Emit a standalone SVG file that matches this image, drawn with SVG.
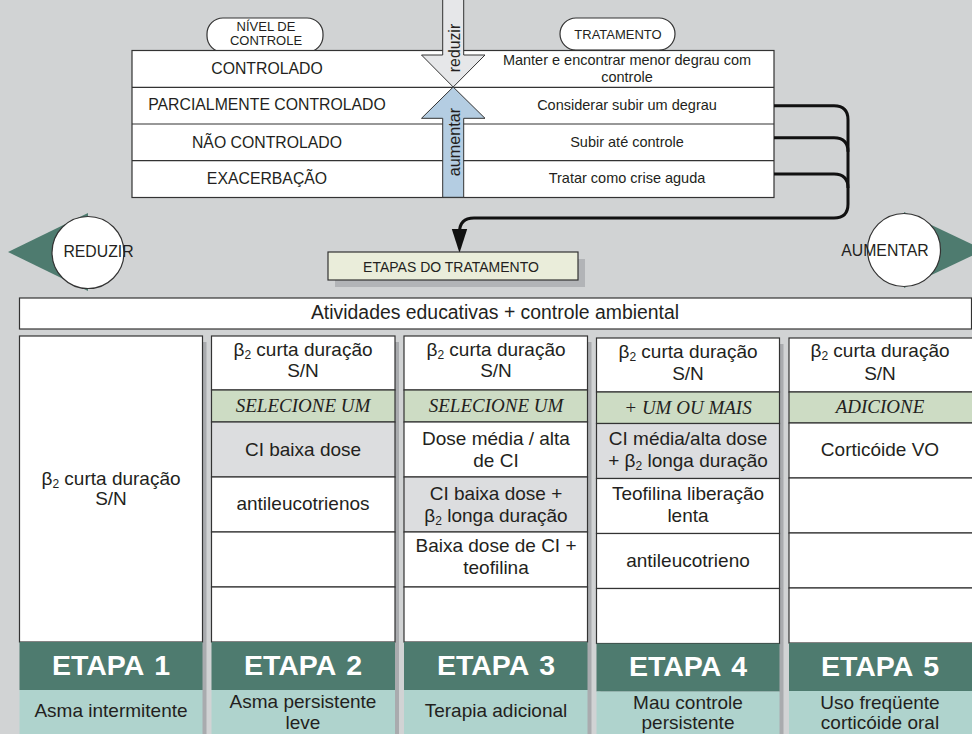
<svg xmlns="http://www.w3.org/2000/svg" width="972" height="734" viewBox="0 0 972 734">
<defs>
<style>
.t{font-family:"Liberation Sans",Arial,sans-serif;fill:#231f20;text-anchor:middle}
.s15{font-size:15.8px}
.s14{font-size:14.5px}
.s13{font-size:13px}
.b{font-size:19px}
.it{font-family:"Liberation Serif","Times New Roman",serif;font-style:italic;font-size:19px;fill:#231f20;text-anchor:middle}
.et{font-family:"Liberation Sans",Arial,sans-serif;font-weight:bold;font-size:28.5px;fill:#fff;text-anchor:middle;word-spacing:3px}
.w{fill:#fff;stroke:#333;stroke-width:1.2}
.gray{fill:#dcdddf;stroke:#333;stroke-width:1.2}
.green{fill:#cddcc4;stroke:#333;stroke-width:1.2}
.dark{fill:#4e7b6f}
.teal{fill:#afd3cd}
.sh{fill:#a9abae}
.conn{fill:none;stroke:#111;stroke-width:3}
.sub{font-size:12px}
</style>
</defs>
<rect x="0" y="0" width="972" height="734" fill="#d1d3d4"/>

<!-- Top table -->
<g id="nivel-pill">
<rect x="207" y="18" width="116" height="34" rx="16" class="w"/>
<text class="t s13" x="266" y="30.5">NÍVEL DE</text>
<text class="t s13" x="266" y="45">CONTROLE</text>
</g>
<g id="tratamento-pill">
<rect x="560" y="18" width="115" height="32" rx="16" class="w"/>
<text class="t s13" x="618" y="38.5">TRATAMENTO</text>
</g>
<g id="tabela-controle">
<rect x="132" y="50.5" width="642" height="147" class="w"/>
<line x1="132" y1="87.3" x2="774" y2="87.3" stroke="#333" stroke-width="1.2"/>
<line x1="132" y1="124" x2="774" y2="124" stroke="#333" stroke-width="1.2"/>
<line x1="132" y1="160.7" x2="774" y2="160.7" stroke="#333" stroke-width="1.2"/>
<text class="t s15" x="267" y="74">CONTROLADO</text>
<text class="t s15" x="267" y="110">PARCIALMENTE CONTROLADO</text>
<text class="t s15" x="267" y="147.5">NÃO CONTROLADO</text>
<text class="t s15" x="267" y="183.5">EXACERBAÇÃO</text>
<text class="t s14" x="627" y="65">Manter e encontrar menor degrau com</text>
<text class="t s14" x="627" y="81.5">controle</text>
<text class="t s14" x="627" y="110">Considerar subir um degrau</text>
<text class="t s14" x="627" y="146.5">Subir até controle</text>
<text class="t s14" x="627" y="182.5">Tratar como crise aguda</text>
</g>
<g id="seta-reduzir">
<polygon points="442.7,-2 463.7,-2 463.7,55 485,55 453.2,87 421.5,55 442.7,55" fill="#e6e7e9" stroke="#333" stroke-width="1"/>
<text class="t" style="font-size:15.8px" transform="translate(460,48) rotate(-90)">reduzir</text>
</g>
<g id="seta-aumentar">
<polygon points="453.2,87 485,118.3 463.7,118.3 463.7,197.3 442.7,197.3 442.7,118.3 421.5,118.3" fill="#b4cde2" stroke="#333" stroke-width="1"/>
<text class="t" style="font-size:16.2px" transform="translate(460,142) rotate(-90)">aumentar</text>
</g>

<!-- Connectors -->
<g id="connectors">
<path class="conn" d="M774,105.7 H834 Q848,105.7 848,119.7 V204 Q848,218 834,218 H474 Q459.5,218 459.5,232.5 V238"/>
<path class="conn" d="M774,137.7 H834 Q848,137.7 848,151.7"/>
<path class="conn" d="M774,174 H834 Q848,174 848,188"/>
<polygon points="451.8,229 467.2,229 459.5,253" fill="#111"/>
</g>

<g id="reduzir">
<polygon points="8,252 88,213 88,291" class="dark"/>
<circle cx="88" cy="252.5" r="36" fill="#fff" stroke="#333" stroke-width="1.2"/>
<text class="t s15" x="98.5" y="257">REDUZIR</text>
</g>
<g id="aumentar">
<polygon points="904,212 904,288 984,250" class="dark"/>
<circle cx="904" cy="250" r="36.5" fill="#fff" stroke="#333" stroke-width="1.2"/>
<text class="t s15" x="885" y="256">AUMENTAR</text>
</g>

<g id="etapas-do-tratamento">
<rect x="335" y="259" width="250" height="28" fill="#b2b4b7"/>
<rect x="328" y="252" width="250" height="28" fill="#eaedda" stroke="#333" stroke-width="1.2"/>
<text class="t" style="font-size:14px" x="451" y="271.5">ETAPAS DO TRATAMENTO</text>
</g>

<g id="atividades">
<rect x="19.5" y="298" width="952" height="31" class="w"/>
<text class="t" style="font-size:19.4px" x="495" y="319">Atividades educativas + controle ambiental</text>
</g>

<!-- Column 1 -->
<g id="etapa1">
<rect x="23.5" y="342" width="183" height="400" class="sh"/>
<rect x="19.5" y="336" width="183" height="306" class="w"/>
<text class="t b" x="111" y="485">β<tspan class="sub" dy="3">2</tspan><tspan dy="-3"> curta duração</tspan></text>
<text class="t b" x="111" y="505">S/N</text>
<rect x="19.5" y="642" width="183" height="48" class="dark"/>
<text class="et" x="111" y="675">ETAPA 1</text>
<rect x="19.5" y="690" width="183" height="50" class="teal"/>
<text class="t b" x="111" y="717">Asma intermitente</text>
</g>

<!-- Column 2 -->
<g id="etapa2">
<rect x="215.5" y="342" width="183.5" height="400" class="sh"/>
<rect x="211.5" y="336" width="183.5" height="54" class="w"/>
<rect x="211.5" y="390" width="183.5" height="32" class="green"/>
<rect x="211.5" y="422" width="183.5" height="55" class="gray"/>
<rect x="211.5" y="477" width="183.5" height="55" class="w"/>
<rect x="211.5" y="532" width="183.5" height="55" class="w"/>
<rect x="211.5" y="587" width="183.5" height="55" class="w"/>
<text class="t b" x="303" y="356">β<tspan class="sub" dy="3">2</tspan><tspan dy="-3"> curta duração</tspan></text>
<text class="t b" x="303" y="377">S/N</text>
<text class="it" x="303" y="411.5">SELECIONE UM</text>
<text class="t b" x="303" y="455.5">CI baixa dose</text>
<text class="t b" x="303" y="509.5">antileucotrienos</text>
<rect x="211.5" y="642" width="183.5" height="48" class="dark"/>
<text class="et" x="303" y="675">ETAPA 2</text>
<rect x="211.5" y="690" width="183.5" height="50" class="teal"/>
<text class="t b" x="303" y="708">Asma persistente</text>
<text class="t b" x="303" y="729">leve</text>
</g>

<!-- Column 3 -->
<g id="etapa3">
<rect x="408" y="342" width="183.5" height="400" class="sh"/>
<rect x="404" y="336" width="183.5" height="54" class="w"/>
<rect x="404" y="390" width="183.5" height="32" class="green"/>
<rect x="404" y="422" width="183.5" height="55" class="w"/>
<rect x="404" y="477" width="183.5" height="55" class="gray"/>
<rect x="404" y="532" width="183.5" height="55" class="w"/>
<rect x="404" y="587" width="183.5" height="55" class="w"/>
<text class="t b" x="496" y="356">β<tspan class="sub" dy="3">2</tspan><tspan dy="-3"> curta duração</tspan></text>
<text class="t b" x="496" y="377">S/N</text>
<text class="it" x="496" y="411.5">SELECIONE UM</text>
<text class="t b" x="496" y="445">Dose média / alta</text>
<text class="t b" x="496" y="467">de CI</text>
<text class="t b" x="496" y="500">CI baixa dose +</text>
<text class="t b" x="496" y="522">β<tspan class="sub" dy="3">2</tspan><tspan dy="-3"> longa duração</tspan></text>
<text class="t b" x="496" y="552">Baixa dose de CI +</text>
<text class="t b" x="496" y="573.5">teofilina</text>
<rect x="404" y="642" width="183.5" height="48" class="dark"/>
<text class="et" x="496" y="675">ETAPA 3</text>
<rect x="404" y="690" width="183.5" height="50" class="teal"/>
<text class="t b" x="496" y="717">Terapia adicional</text>
</g>

<!-- Column 4 -->
<g id="etapa4">
<rect x="600.5" y="344" width="183" height="400" class="sh"/>
<rect x="596.5" y="338" width="183" height="54" class="w"/>
<rect x="596.5" y="392" width="183" height="31.5" class="green"/>
<rect x="596.5" y="423.5" width="183" height="55" class="gray"/>
<rect x="596.5" y="478.5" width="183" height="55" class="w"/>
<rect x="596.5" y="533.5" width="183" height="55" class="w"/>
<rect x="596.5" y="588.5" width="183" height="55" class="w"/>
<text class="t b" x="688" y="358">β<tspan class="sub" dy="3">2</tspan><tspan dy="-3"> curta duração</tspan></text>
<text class="t b" x="688" y="380">S/N</text>
<text class="it" x="688" y="413.5">+ UM OU MAIS</text>
<text class="t b" x="688" y="445">CI média/alta dose</text>
<text class="t b" x="688" y="467">+ β<tspan class="sub" dy="3">2</tspan><tspan dy="-3"> longa duração</tspan></text>
<text class="t b" x="688" y="500">Teofilina liberação</text>
<text class="t b" x="688" y="522">lenta</text>
<text class="t b" x="688" y="567">antileucotrieno</text>
<rect x="596.5" y="643.5" width="183" height="48" class="dark"/>
<text class="et" x="688" y="675.5">ETAPA 4</text>
<rect x="596.5" y="691.5" width="183" height="50" class="teal"/>
<text class="t b" x="688" y="708.5">Mau controle</text>
<text class="t b" x="688" y="729">persistente</text>
</g>

<!-- Column 5 -->
<g id="etapa5">
<rect x="789" y="338" width="190" height="54" class="w"/>
<rect x="789" y="392" width="190" height="31" class="green"/>
<rect x="789" y="423" width="190" height="55" class="w"/>
<rect x="789" y="478" width="190" height="55" class="w"/>
<rect x="789" y="533" width="190" height="55" class="w"/>
<rect x="789" y="588" width="190" height="55" class="w"/>
<text class="t b" x="880" y="357">β<tspan class="sub" dy="3">2</tspan><tspan dy="-3"> curta duração</tspan></text>
<text class="t b" x="880" y="380">S/N</text>
<text class="it" x="880" y="413">ADICIONE</text>
<text class="t b" x="880" y="456">Corticóide VO</text>
<rect x="789" y="643" width="190" height="48" class="dark"/>
<text class="et" x="880" y="675.5">ETAPA 5</text>
<rect x="789" y="691" width="190" height="50" class="teal"/>
<text class="t b" x="880" y="708.5">Uso freqüente</text>
<text class="t b" x="880" y="729">corticóide oral</text>
</g>
</svg>
